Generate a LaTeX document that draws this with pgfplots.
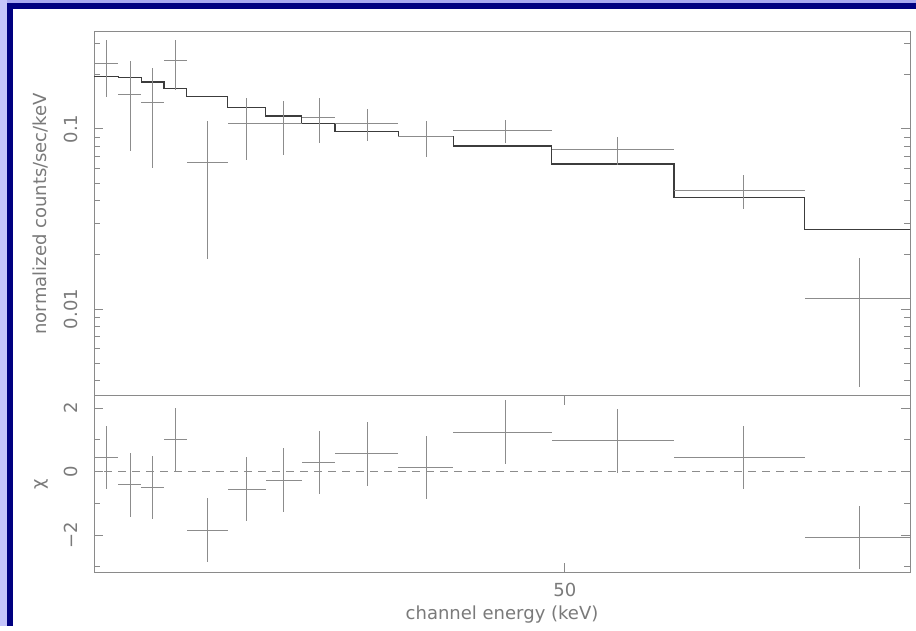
\documentclass[border=0pt]{standalone}
\usepackage{pgfplots}
\pgfplotsset{compat=1.18}
\usepackage{pgfplotstable}
\usepackage{fontspec}
\setmainfont{DejaVu Sans}
\definecolor{navyframe}{HTML}{000080}
\definecolor{stripeL}{HTML}{C4C4FA}
\definecolor{stripeT}{HTML}{A8A8F0}
\definecolor{txt}{HTML}{7A7A7A}
\definecolor{axgray}{HTML}{8A8A8A}
\definecolor{datagray}{HTML}{8C8C8C}
\definecolor{modelgray}{HTML}{3C3C3C}

\pgfplotsset{mycommon/.style={
  scale only axis, width=408pt, anchor=south west,
  xmin=22.17, xmax=90.76,
  xtick=\empty,
  axis line style={axgray, line width=0.5pt},
  tick style={axgray, line width=0.5pt},
  major tick length=4.5pt, minor tick length=3pt,
  tick pos=both, xticklabel pos=lower, yticklabel pos=left,
  tick label style={txt, font=\fontsize{9pt}{11pt}\selectfont},
  label style={txt, font=\fontsize{9pt}{11pt}\selectfont},
  yticklabel style={rotate=90, anchor=south, inner ysep=8pt},
  ylabel style={at={(axis description cs:-0.065,0.5)}, anchor=center},
  /pgf/number format/assume math mode=true,
}}

% data: bin centre, flux, x-error minus/plus, y-error, residual (chi)
\pgfplotstableread{
x     y       exm   exp   ey      r
22.64 0.2317  0.47  0.48  0.0805  0.45
23.61 0.1564  0.49  0.45  0.0810 -0.42
24.53 0.1400  0.47  0.49  0.0790 -0.50
25.52 0.2395  0.50  0.49  0.0740  1.00
26.98 0.0650  0.97  0.95  0.0460 -1.84
28.86 0.1076  0.93  0.97  0.0405 -0.55
30.74 0.1076  0.91  0.99  0.0360 -0.27
32.71 0.1161  0.98  0.90  0.0330  0.28
35.54 0.1076  1.93  1.96  0.0220  0.56
39.37 0.0906  1.87  1.86  0.0205  0.13
45.10 0.0978  3.87  3.77  0.0143  1.24
54.72 0.0767  5.85  5.66  0.0135  0.97
68.08 0.0456  7.70  7.60  0.0096  0.45
83.21 0.01147 7.53  8.28  0.0078 -2.07
}\spec

% model: bin left edges and model value
\pgfplotstableread{
x     y
22.17 0.1953
23.12 0.1931
24.06 0.1824
25.02 0.1683
26.01 0.1510
27.93 0.1320
29.83 0.1181
31.73 0.1076
33.61 0.0966
37.50 0.0906
41.23 0.0804
48.87 0.0639
60.38 0.0418
75.68 0.0277
91.49 0.0277
}\model

\begin{document}
\begin{tikzpicture}[font=\fontsize{9pt}{11pt}\selectfont]
\fill[stripeL] (0,0) rectangle (458pt,313pt);
\fill[navyframe] (3.5pt,0) rectangle (458pt,311.5pt);
\fill[white] (6.5pt,0) rectangle (458pt,308.5pt);
\fill[stripeT] (3.5pt,311.5pt) rectangle (458pt,313pt);
\begin{axis}[mycommon, xmode=log, ymode=log,
  at={(47pt,115.15pt)}, height=182pt,
  ymin=0.0033, ymax=0.347,
  minor xtick={30,40,50,60,70,80,90},
  ytick={0.01,0.1}, yticklabels={0.01,0.1},
  minor ytick={0.004,0.005,0.006,0.007,0.008,0.009,0.02,0.03,0.04,0.05,0.06,0.07,0.08,0.09,0.2,0.3},
  ylabel={normalized counts/sec/keV}]
\addplot[const plot, modelgray, line width=0.65pt] table[x=x,y=y]{\model};
\addplot[draw=none, mark=none,
  error bars/.cd, x dir=both, x explicit, y dir=both, y explicit,
  error mark=none, error bar style={draw=datagray, line width=0.5pt, solid}]
  table[x=x, y=y, x error minus=exm, x error plus=exp, y error=ey]{\spec};
\end{axis}
\begin{axis}[mycommon, xmode=log,
  at={(47pt,26.85pt)}, height=88.3pt,
  ymin=-3.17, ymax=2.39,
  minor xtick={30,40,60,70,80,90},
  extra x ticks={50}, extra x tick labels={50},
  xticklabel style={inner ysep=5pt},
  ytick={-2,0,2}, yticklabels={−2,0,2},
  minor ytick={-3,-1,1},
  ylabel={χ},
  xlabel={channel energy (keV)},
  xlabel style={at={(axis description cs:0.5,0)}, anchor=north, yshift=-13.4pt}]
\addplot[datagray, line width=0.5pt, dash pattern=on 4pt off 3pt] coordinates {(20,0) (100,0)};
\addplot[draw=none, mark=none,
  error bars/.cd, x dir=both, x explicit, y dir=both, y fixed=1,
  error mark=none, error bar style={draw=datagray, line width=0.5pt, solid}]
  table[x=x, y=r, x error minus=exm, x error plus=exp]{\spec};
\end{axis}
\end{tikzpicture}
\end{document}
